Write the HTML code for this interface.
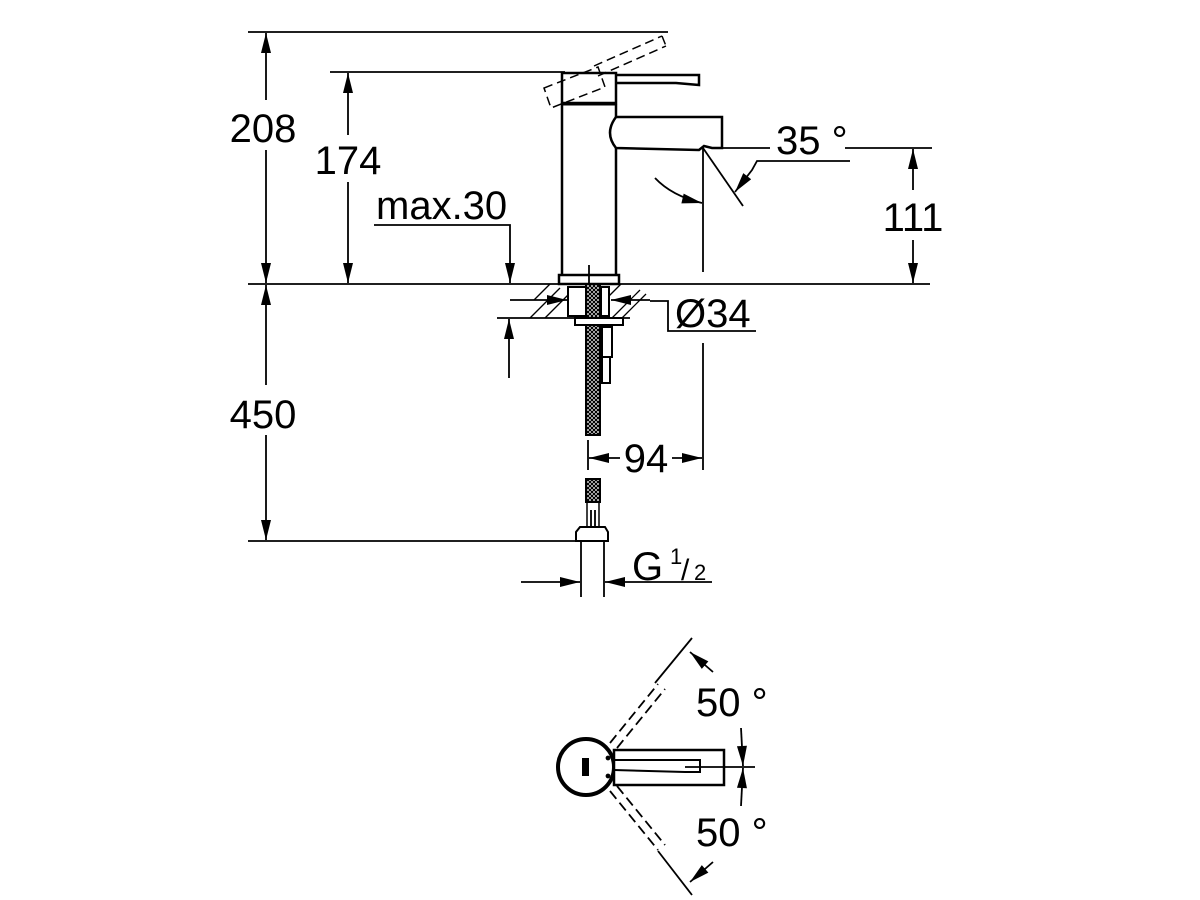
<!DOCTYPE html>
<html><head><meta charset="utf-8"><style>
html,body{margin:0;padding:0;background:#fff;}
svg{display:block;}
text{font-family:"Liberation Sans",sans-serif;fill:#000;}
</style></head><body>
<svg width="1200" height="900" viewBox="0 0 1200 900" xmlns="http://www.w3.org/2000/svg">
<defs>
<marker id="a" viewBox="0 0 20 10" refX="20" refY="5" markerWidth="22" markerHeight="10" markerUnits="userSpaceOnUse" orient="auto"><path d="M0,0 L20,5 L0,10 Z" fill="#000"/></marker>
<pattern id="hx" width="4" height="4" patternUnits="userSpaceOnUse"><rect width="4" height="4" fill="#fff"/><path d="M0,0 L4,4 M4,0 L0,4" stroke="#000" stroke-width="1.2"/></pattern>
</defs>
<g stroke="#000" stroke-width="1.8" fill="none">
<line x1="248" y1="32" x2="668" y2="32"/>
<line x1="330" y1="72" x2="565" y2="72"/>
<line x1="248" y1="284" x2="930" y2="284"/>
<line x1="248" y1="541" x2="578" y2="541"/>
<line x1="266" y1="100" x2="266" y2="33" marker-end="url(#a)"/>
<line x1="266" y1="150" x2="266" y2="283" marker-end="url(#a)"/>
<line x1="266" y1="385" x2="266" y2="285" marker-end="url(#a)"/>
<line x1="266" y1="435" x2="266" y2="540" marker-end="url(#a)"/>
<line x1="348" y1="135" x2="348" y2="73" marker-end="url(#a)"/>
<line x1="348" y1="182" x2="348" y2="283" marker-end="url(#a)"/>
<polyline points="374,225 510,225 510,283" marker-end="url(#a)"/>
<line x1="509" y1="378" x2="509" y2="319" marker-end="url(#a)"/>
<line x1="497" y1="318" x2="630" y2="318"/>
<line x1="722" y1="148" x2="770" y2="148"/>
<line x1="845" y1="148" x2="932" y2="148"/>
<line x1="913" y1="190" x2="913" y2="149" marker-end="url(#a)"/>
<line x1="913" y1="240" x2="913" y2="283" marker-end="url(#a)"/>
<line x1="703" y1="148" x2="703" y2="272"/>
<line x1="703" y1="148" x2="743" y2="206"/>
<polyline points="850,161 757,161 752,170 735,192" marker-end="url(#a)"/>
<path d="M655,178 Q672,196 702,203" marker-end="url(#a)"/>
<rect x="562" y="73" width="54" height="30" stroke-width="2.5"/>
<line x1="562" y1="104" x2="616" y2="104" stroke-width="3"/>
<line x1="562" y1="104" x2="562" y2="275" stroke-width="2.5"/>
<line x1="616" y1="104" x2="616" y2="117" stroke-width="2.5"/>
<line x1="616" y1="148" x2="616" y2="275" stroke-width="2.5"/>
<path d="M616,75 L699,75 L699,85 L676,83 L616,83" stroke-width="2.5"/>
<path d="M616,117 L722,117 L722,148 L712,148 L704,146 L699,150 L616,148 Q604,133 616,117" stroke-width="2.5"/>
<rect x="559" y="275" width="60" height="9" stroke-width="2.5"/>
<line x1="589" y1="265" x2="589" y2="284"/>
<g stroke-dasharray="9,5" stroke-width="1.5">
<polygon points="544,88 598,67 605,87 551,108"/>
<line x1="594" y1="66" x2="662" y2="36"/>
<line x1="598" y1="76" x2="666" y2="46"/>
<line x1="662" y1="36" x2="666" y2="46"/>
</g>
<g stroke-width="1.3">
<line x1="530" y1="318" x2="560" y2="288"/><line x1="545" y1="318" x2="568" y2="295"/>
<line x1="534" y1="300" x2="550" y2="284"/>
<line x1="612" y1="318" x2="640" y2="290"/><line x1="622" y1="318" x2="646" y2="294"/>
<line x1="605" y1="300" x2="621" y2="284"/>
</g>
<rect x="568" y="287" width="20" height="29" fill="#fff" stroke-width="2"/>
<rect x="586" y="284" width="14" height="151" fill="url(#hx)" stroke-width="2"/>
<rect x="601" y="287" width="8" height="29" fill="#fff" stroke-width="2"/>
<rect x="575" y="318" width="48" height="7" fill="#fff" stroke-width="2"/>
<rect x="602" y="327" width="10" height="30" fill="#fff" stroke-width="2"/>
<rect x="602" y="357" width="8" height="26" fill="#fff" stroke-width="2"/>
<line x1="510" y1="300" x2="567" y2="300" marker-end="url(#a)"/>
<line x1="650" y1="300" x2="611" y2="300" marker-end="url(#a)"/>
<polyline points="650,301 668,301 668,331 756,331"/>
<line x1="703" y1="343" x2="703" y2="470"/>
<line x1="588" y1="440" x2="588" y2="470"/>
<line x1="620" y1="458" x2="589" y2="458" marker-end="url(#a)"/>
<line x1="672" y1="458" x2="702" y2="458" marker-end="url(#a)"/>
<rect x="586" y="479" width="14" height="23" fill="url(#hx)" stroke-width="2"/>
<rect x="587" y="502" width="12" height="25" stroke-width="1.5"/>
<line x1="591" y1="510" x2="591" y2="527"/><line x1="595" y1="510" x2="595" y2="527"/>
<path d="M580,527 L605,527 L608,532 L608,541 L576,541 L576,532 Z" fill="#fff" stroke-width="2"/>
<line x1="581" y1="541" x2="581" y2="597"/>
<line x1="604" y1="541" x2="604" y2="597"/>
<line x1="521" y1="582" x2="580" y2="582" marker-end="url(#a)"/>
<line x1="712" y1="582" x2="605" y2="582" marker-end="url(#a)"/>
<circle cx="586" cy="767" r="28" stroke-width="4"/>
<rect x="582" y="758" width="7" height="18" fill="#000" stroke="none"/>
<rect x="614" y="750" width="110" height="35" stroke-width="2.5" fill="#fff"/>
<path d="M614,760 L700,760 L700,772 L685,772 L614,770" stroke-width="2"/>
<line x1="685" y1="767" x2="755" y2="767"/>
<circle cx="608" cy="758" r="1.5" fill="#000"/><circle cx="608" cy="776" r="1.5" fill="#000"/>
<g stroke-dasharray="10,5">
<line x1="610" y1="743" x2="658" y2="684"/>
<line x1="617" y1="748" x2="665" y2="689"/>
<line x1="610" y1="791" x2="658" y2="850"/>
<line x1="617" y1="786" x2="665" y2="845"/>
</g>
<line x1="655" y1="683" x2="692" y2="638"/>
<line x1="658" y1="851" x2="692" y2="895"/>
<line x1="713" y1="672" x2="690" y2="652" marker-end="url(#a)"/>
<line x1="713" y1="862" x2="690" y2="882" marker-end="url(#a)"/>
<line x1="741" y1="728" x2="743" y2="766" marker-end="url(#a)"/>
<line x1="741" y1="806" x2="743" y2="768" marker-end="url(#a)"/>
</g>
<g font-size="40">
<text x="263" y="142" text-anchor="middle">208</text>
<text x="348" y="174" text-anchor="middle">174</text>
<text x="263" y="428" text-anchor="middle">450</text>
<text x="913" y="231" text-anchor="middle">111</text>
<text x="376" y="219">max.30</text>
<text x="776" y="154">35 °</text>
<text x="675" y="327">Ø34</text>
<text x="646" y="472" text-anchor="middle">94</text>
<text x="632" y="580">G</text>
<text x="696" y="716">50 °</text>
<text x="696" y="846">50 °</text>
</g>
<text x="670" y="564" font-size="22">1</text>
<text x="681" y="580" font-size="30">/</text>
<text x="694" y="580" font-size="22">2</text>
</svg>
</body></html>
